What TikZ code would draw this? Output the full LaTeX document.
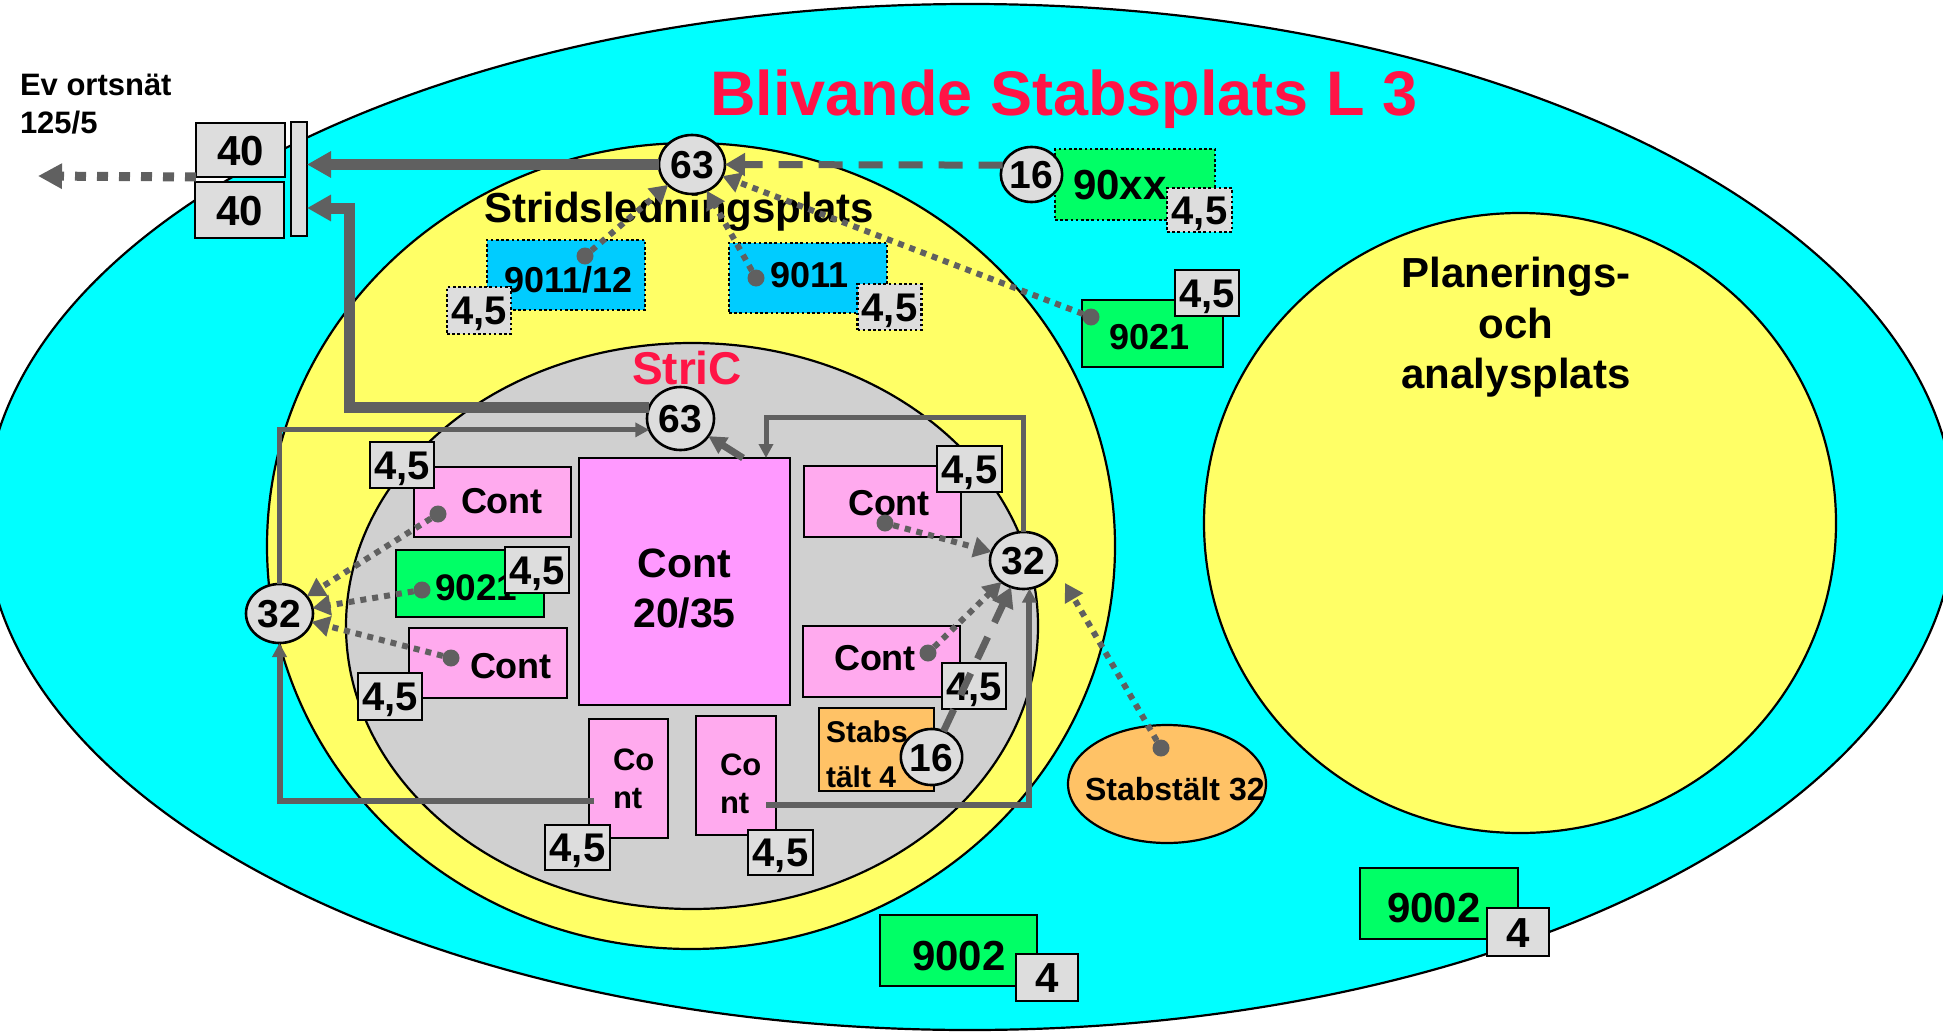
\documentclass[tikz,border=0pt]{standalone}
\usepackage{fontspec}
\setmainfont{Liberation Sans}
\usetikzlibrary{shapes.geometric,arrows.meta,calc}
\definecolor{cyanbg}{RGB}{0,255,255}
\definecolor{yel}{RGB}{255,255,102}
\definecolor{grayin}{RGB}{208,208,208}
\definecolor{boxg}{RGB}{221,221,221}
\definecolor{grn}{RGB}{0,255,102}
\definecolor{blu}{RGB}{0,204,255}
\definecolor{pinkl}{RGB}{255,170,238}
\definecolor{pinkd}{RGB}{255,153,255}
\definecolor{orng}{RGB}{255,194,102}
\definecolor{redt}{RGB}{255,20,70}
\definecolor{ln}{RGB}{96,96,96}
\newcommand\fsz[2]{\fontsize{#1}{#2}\selectfont\bfseries}
\tikzset{
  region/.style={ellipse, draw=black, line width=1.1pt, inner sep=0pt, outer sep=0pt},
  txt/.style={inner sep=0pt, outer sep=0pt, text=black},
  cbox/.style={rectangle, draw=black, line width=1.3pt, inner sep=0pt, outer sep=0pt},
  dbox/.style={cbox, dash pattern=on 1.3pt off 1.3pt},
  numbox/.style={cbox, fill=boxg, font=\fsz{20pt}{20pt}, text height=14.3pt, text depth=0pt},
  circ/.style={ellipse, draw=black, fill=boxg, line width=1.3pt, inner sep=0pt, outer sep=0pt, font=\fsz{19.5pt}{19.5pt}, text height=14pt, text depth=0pt},
  dotn/.style={circle, fill=ln, inner sep=0pt, minimum size=8.5pt, outer sep=0pt},
  fatln/.style={draw=ln, line width=5.5pt, -{Triangle[length=12pt,width=12.5pt]}},
  dashln/.style={draw=ln, line width=3.5pt, dash pattern=on 12pt off 8pt, -{Triangle[length=10pt,width=11pt]}},
  dotln/.style={draw=ln, line width=3pt, dash pattern=on 3pt off 3pt, -{Triangle[length=9pt,width=10pt]}},
  bigdotln/.style={draw=ln, line width=4.5pt, dash pattern=on 5.5pt off 5.5pt, -{Triangle[length=12pt,width=12pt]}},
  thinln/.style={draw=ln, line width=2.5pt, -{Triangle[length=7pt,width=7pt]}},
  medln/.style={draw=ln, line width=3.5pt, -{Triangle[length=9pt,width=9pt]}},
}
\begin{document}
\begin{tikzpicture}[x=0.5pt,y=-0.5pt]
\useasboundingbox (0,0) rectangle (1943,1033);
\clip (0,0) rectangle (1943,1033);
\fill[white] (0,0) rectangle (1943,1033);
% regions
\node[region, fill=cyanbg, minimum width=985pt, minimum height=513pt] (outer) at (970,517) {};
\node[region, fill=yel, minimum width=424pt, minimum height=403pt] (strid) at (691,546) {};
\node[region, fill=grayin, minimum width=346pt, minimum height=283pt] (stric) at (692,626) {};
\node[region, fill=yel, minimum width=316pt, minimum height=310pt] (plan) at (1520,523) {};
\node[region, fill=orng, minimum width=99pt, minimum height=59pt] (stab32) at (1167,784) {};
% texts
\node[txt, font=\fsz{15.5pt}{15.5pt}, anchor=base west] (ev1) at (20,95) {Ev ortsnät};
\node[txt, font=\fsz{15.5pt}{15.5pt}, anchor=base west] (ev2) at (20,133) {125/5};
\node[txt, text=redt, font=\fsz{31.5pt}{31.5pt}, anchor=base west] (title) at (710,115) {Blivande Stabsplats L 3};
\node[txt, font=\fsz{21pt}{21pt}, anchor=base west] (stridt) at (484,222) {Stridsledningsplats};
\node[txt, text=redt, font=\fsz{23pt}{23pt}, anchor=base west] (strict) at (632,384) {StriC};
\node[txt, font=\fsz{21pt}{21pt}, anchor=base] (pl1) at (1516,287) {Planerings-};
\node[txt, font=\fsz{21pt}{21pt}, anchor=base] (pl2) at (1516,338) {och};
\node[txt, font=\fsz{21pt}{21pt}, anchor=base] (pl3) at (1516,388) {analysplats};
\node[txt, font=\fsz{16pt}{16pt}, anchor=base west] (stab32t) at (1085,800) {Stabstält 32};
% coloured boxes
\node[dbox, fill=blu, minimum width=79pt, minimum height=35pt] (b901112) at (566,275) {};
\node[txt, font=\fsz{18pt}{18pt}, anchor=base west] (t901112) at (504,292) {9011/12};
\node[dbox, fill=blu, minimum width=79pt, minimum height=35pt] (b9011) at (808,278) {};
\node[txt, font=\fsz{18pt}{18pt}, anchor=base west] (t9011) at (770,287) {9011};
\node[dbox, fill=grn, minimum width=80pt, minimum height=35.5pt] (b90xx) at (1135,184.5) {};
\node[txt, font=\fsz{21pt}{21pt}, anchor=base west] (t90xx) at (1073,199) {90xx};
\node[cbox, fill=grn, minimum width=70.5pt, minimum height=33.5pt] (b9021t) at (1152.5,333.5) {};
\node[txt, font=\fsz{18pt}{18pt}, anchor=base west] (t9021t) at (1109,349) {9021};
\node[cbox, fill=pinkl, minimum width=78.5pt, minimum height=35pt] (bc1) at (492.5,502) {};
\node[txt, font=\fsz{18pt}{18pt}, anchor=base west] (tc1) at (461,513) {Cont};
\node[cbox, fill=grn, minimum width=74pt, minimum height=33.5pt] (b9021i) at (470,583.5) {};
\node[txt, font=\fsz{18.5pt}{18.5pt}, anchor=base west] (t9021i) at (435,600) {9021};
\node[cbox, fill=pinkl, minimum width=79pt, minimum height=35pt] (bc2) at (488,663) {};
\node[txt, font=\fsz{18pt}{18pt}, anchor=base west] (tc2) at (470,678) {Cont};
\node[cbox, fill=pinkd, minimum width=105.5pt, minimum height=123.5pt] (cbig) at (684.5,581.5) {};
\node[txt, font=\fsz{20.5pt}{20.5pt}, anchor=base] (tcb1) at (684.5,577) {Cont};
\node[txt, font=\fsz{20.5pt}{20.5pt}, anchor=base] (tcb2) at (684.5,627) {20/35};
\node[cbox, fill=pinkl, minimum width=78.5pt, minimum height=35.5pt] (bcru) at (882.5,501.5) {};
\node[txt, font=\fsz{18pt}{18pt}, anchor=base west] (tcru) at (848,515) {Cont};
\node[cbox, fill=pinkl, minimum width=78.5pt, minimum height=35.5pt] (bcrl) at (881.5,661.5) {};
\node[txt, font=\fsz{18pt}{18pt}, anchor=base west] (tcrl) at (834,670) {Cont};
\node[cbox, fill=orng, minimum width=57.5pt, minimum height=41.5pt] (bstabs) at (876.5,749.5) {};
\node[txt, font=\fsz{15pt}{15pt}, anchor=base west] (tst1) at (826,742) {Stabs};
\node[txt, font=\fsz{15pt}{15pt}, anchor=base west] (tst2) at (826,787) {tält 4};
\node[cbox, fill=pinkl, minimum width=39.5pt, minimum height=59.5pt] (coL) at (628.5,778.5) {};
\node[txt, font=\fsz{15.5pt}{15.5pt}, anchor=base west] (tcoL1) at (613,770) {Co};
\node[txt, font=\fsz{15.5pt}{15.5pt}, anchor=base west] (tcoL2) at (613,808) {nt};
\node[cbox, fill=pinkl, minimum width=40pt, minimum height=59.5pt] (coR) at (736,775.5) {};
\node[txt, font=\fsz{15.5pt}{15.5pt}, anchor=base west] (tcoR1) at (720,775) {Co};
\node[txt, font=\fsz{15.5pt}{15.5pt}, anchor=base west] (tcoR2) at (720,813) {nt};
\node[cbox, fill=grn, minimum width=78.5pt, minimum height=35.5pt] (b9002l) at (958.5,950.5) {};
\node[txt, font=\fsz{21pt}{21pt}, anchor=base west] (t9002l) at (912,970) {9002};
\node[cbox, fill=grn, minimum width=79pt, minimum height=35.5pt] (b9002r) at (1439,903.5) {};
\node[txt, font=\fsz{21pt}{21pt}, anchor=base west] (t9002r) at (1387,922) {9002};
% number boxes
\node[numbox, dbox, minimum width=32pt, minimum height=23.5pt] (n1) at (479,310.5) {4,5};
\node[numbox, dbox, minimum width=32pt, minimum height=23pt] (n2) at (889.5,307) {4,5};
\node[numbox, dbox, minimum width=32.5pt, minimum height=22pt] (n3) at (1199.5,210) {4,5};
\node[numbox, minimum width=32pt, minimum height=23pt] (n4) at (1207,293) {4,5};
\node[numbox, minimum width=32pt, minimum height=23pt] (n5) at (402,465) {4,5};
\node[numbox, minimum width=32pt, minimum height=23pt] (n6) at (537,570) {4,5};
\node[numbox, minimum width=32pt, minimum height=23.5pt] (n7) at (390,696.5) {4,5};
\node[numbox, minimum width=32.5pt, minimum height=23pt] (n8) at (969.5,469) {4,5};
\node[numbox, minimum width=32pt, minimum height=23pt] (n9) at (974,686) {4,5};
\node[numbox, minimum width=32.5pt, minimum height=22.5pt] (n10) at (577.5,847.5) {4,5};
\node[numbox, minimum width=32.5pt, minimum height=22.5pt] (n11) at (780.5,852.5) {4,5};
\node[numbox, font=\fsz{21pt}{21pt}, text height=15pt, minimum width=31pt, minimum height=23.5pt] (n12) at (1047,977.5) {4};
\node[numbox, font=\fsz{21pt}{21pt}, text height=15pt, minimum width=31pt, minimum height=24pt] (n13) at (1518,932) {4};
\node[numbox, font=\fsz{21pt}{21pt}, text height=15pt, minimum width=44.5pt, minimum height=27pt] (b40t) at (240.5,150) {40};
\node[numbox, font=\fsz{21pt}{21pt}, text height=15pt, minimum width=44.5pt, minimum height=28pt] (b40b) at (239.5,210) {40};
\node[cbox, fill=boxg, minimum width=8pt, minimum height=57pt] (bar) at (299,179) {};
% circles
\node[circ, minimum width=33pt, minimum height=29.5pt] (c63t) at (692,164.5) {63};
\node[circ, minimum width=26.5pt, minimum height=27.5pt] (c16t) at (1031.5,174.5) {16};
\node[circ, minimum width=33.5pt, minimum height=31.5pt] (i63) at (680.5,418.5) {63};
\node[circ, minimum width=33.5pt, minimum height=29.5pt] (c32l) at (279.5,613.5) {32};
\node[circ, minimum width=33.5pt, minimum height=28.5pt] (c32r) at (1023.5,560.5) {32};
\node[circ, minimum width=29.5pt, minimum height=28pt] (c16s) at (931.5,757) {16};
% dots
\node[dotn] (d1) at (585,256) {};
\node[dotn] (d2) at (756,278) {};
\node[dotn] (d3) at (1091,317) {};
\node[dotn] (d4) at (438,514) {};
\node[dotn] (d5) at (422,590) {};
\node[dotn] (d6) at (451,658) {};
\node[dotn] (d7) at (885,523) {};
\node[dotn] (d8) at (928,653) {};
\node[dotn] (d9) at (1161,748) {};
% helper coordinates
\coordinate (kB) at (349,208);
\coordinate (kTR) at (766,417);
\coordinate (evtip) at (38,176);
\coordinate (s32tip) at (1065,583);
% connectors
\draw[fatln] (c63t.west) -- (c63t.west -| bar.east);
\draw[fatln] (i63.160) -| (kB) -- (kB -| bar.east);
\draw[dashln] (c16t.162) -- (c63t.east);
\draw[bigdotln] (b40t.south west) -- (evtip);
\draw[dotln] (d1) -- (c63t);
\draw[dotln] (d2) -- (c63t);
\draw[dotln] (d3) -- (c63t);
\draw[dotln] (d4) -- (c32l);
\draw[dotln] (d5) -- (c32l);
\draw[dotln] (d6) -- (c32l);
\draw[dotln] (d7) -- (c32r);
\draw[dotln] (d8) -- (c32r);
\draw[dotln] (d9) -- (s32tip);
\draw[dashln] (c16s) -- (c32r);
\draw[thinln] (c32l.north) |- (i63.200);
\draw[thinln] (c32r.north) |- (kTR) -- (kTR |- cbig.north);
\draw[thinln, line width=3pt] ($(coL.west)+(5,22.5)$) -| (c32l.south);
\draw[thinln, line width=3pt] ($(coR.east)+(-10,29)$) -| (c32r.-78);
\draw[medln] ($(cbig.north)+(58.5,0)$) -- (i63);
\end{tikzpicture}
\end{document}
